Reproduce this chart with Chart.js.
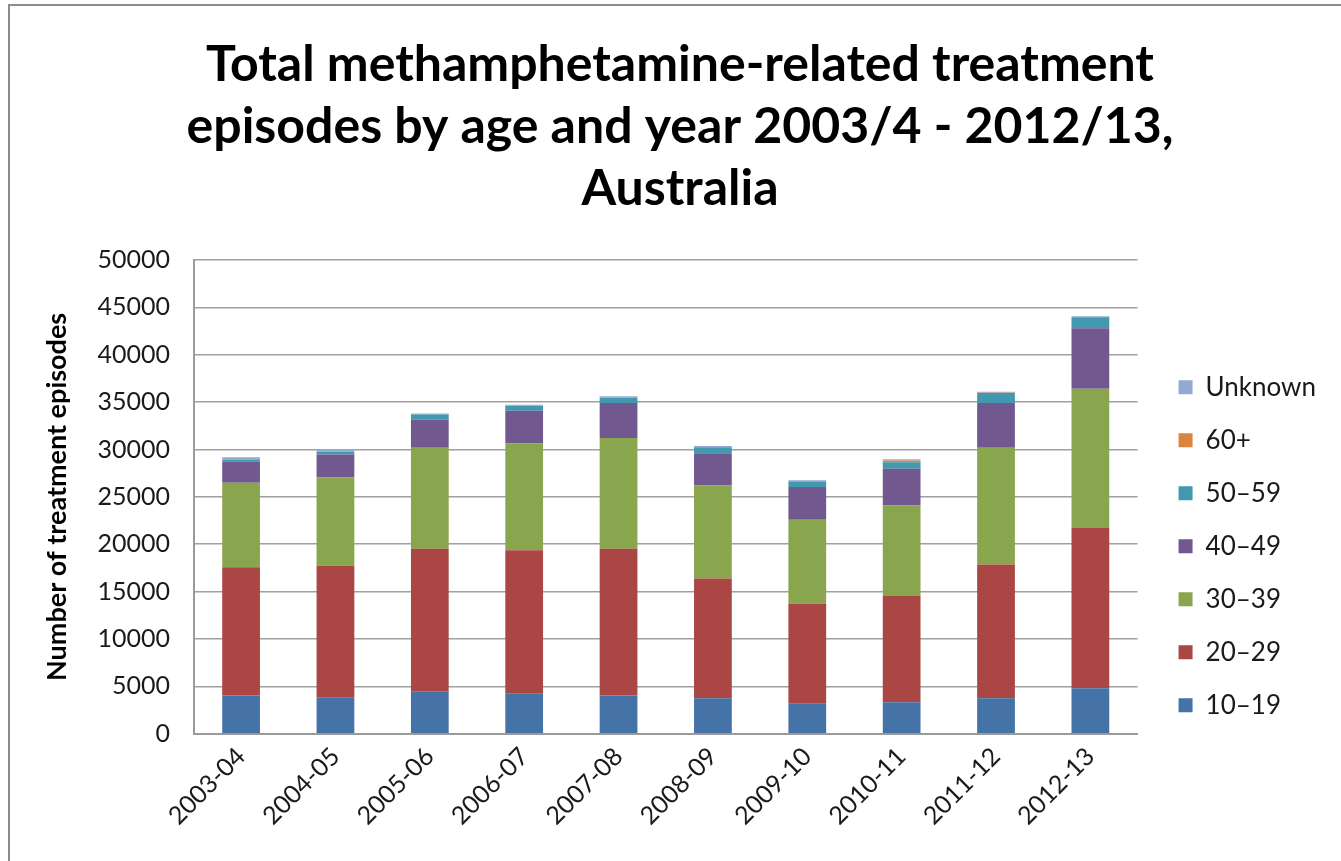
<!DOCTYPE html>
<html>
<head>
<meta charset="utf-8">
<title>Methamphetamine treatment episodes</title>
<script src="https://cdn.jsdelivr.net/npm/chart.js@4"></script>
<style>
  html, body { margin: 0; padding: 0; background: #fff; overflow: hidden; }
  #mainChart { position: absolute; left: 0; top: 0; z-index: 1; }
  #frame {
    position: absolute; left: 8px; top: 4px; width: 1400px; height: 900px;
    border-left: 2px solid #8c8c8c; border-top: 2px solid #8c8c8c;
    z-index: 2; pointer-events: none;
  }
</style>
</head>
<body>
<canvas id="mainChart" width="1360" height="861"></canvas>
<div id="frame"></div>
<script>
// Financial years
const years = ["2003-04", "2004-05", "2005-06", "2006-07", "2007-08",
               "2008-09", "2009-10", "2010-11", "2011-12", "2012-13"];

// Episodes per age group
const age10to19 = [4030, 3790, 4490, 4210, 4030, 3750, 3160, 3330, 3750, 4800];
const age20to29 = [13550, 13930, 15020, 15160, 15480, 12630, 10560, 11260, 14100, 16920];
const age30to39 = [8900, 9360, 10660, 11260, 11710, 9830, 8870, 9510, 12320, 14700];
const age40to49 = [2220, 2390, 2990, 3470, 3690, 3400, 3440, 3860, 4740, 6380];
const age50to59 = [250, 280, 520, 490, 560, 630, 600, 700, 1050, 1160];
const age60plus = [20, 20, 20, 30, 30, 30, 30, 180, 30, 30];
const ageUnknown = [200, 250, 110, 110, 110, 100, 100, 140, 100, 70];

const yTicks = [0, 5000, 10000, 15000, 20000, 25000, 30000, 35000, 40000, 45000, 50000];

const colors = {
    a10: "#4572A7",
    a20: "#AA4643",
    a30: "#89A54E",
    a40: "#71588F",
    a50: "#4198AF",
    a60: "#DB843D",
    unk: "#93A9CF",
};

const fontFamily = "Lato, 'Noto Sans', sans-serif";

function series(label, data, color) {
    return {
        label: label,
        data: data,
        backgroundColor: color,
        borderWidth: 0,
        barPercentage: 0.5,
        categoryPercentage: 0.8,
    };
}

const ctx = document.getElementById("mainChart").getContext("2d");

new Chart(ctx, {
    type: "bar",
    data: {
        labels: years,
        datasets: [
            series("10–19", age10to19, colors.a10),
            series("20–29", age20to29, colors.a20),
            series("30–39", age30to39, colors.a30),
            series("40–49", age40to49, colors.a40),
            series("50–59", age50to59, colors.a50),
            series("60+", age60plus, colors.a60),
            series("Unknown", ageUnknown, colors.unk),
        ],
    },
    options: {
        responsive: false,
        animation: false,
        layout: { padding: { left: 34, right: 34, top: 0, bottom: 22 } },
        plugins: {
            title: {
                display: true,
                text: [
                    "Total methamphetamine-related treatment",
                    "episodes by age and year 2003/4 - 2012/13,",
                    "Australia",
                ],
                color: "#000",
                font: { family: fontFamily, size: 50, weight: "bold", lineHeight: 1.24 },
                padding: { top: 34, bottom: 40 },
            },
            legend: {
                position: "right",
                reverse: true,
                // blank title just pushes the items down beside the plot
                title: {
                    display: true,
                    text: " ",
                    font: { size: 12 },
                    padding: { top: 239, bottom: 0 },
                },
                labels: {
                    color: "#1a1a1a",
                    font: { family: fontFamily, size: 26 },
                    boxWidth: 14,
                    boxHeight: 14,
                    padding: 27,
                },
            },
            tooltip: { enabled: false },
        },
        scales: {
            x: {
                stacked: true,
                grid: { display: false, drawTicks: false },
                border: { display: true, color: "#9a9a9a", width: 2 },
                ticks: {
                    color: "#1a1a1a",
                    font: { family: fontFamily, size: 25 },
                    minRotation: 45,
                    maxRotation: 45,
                    padding: 8,
                },
            },
            y: {
                stacked: true,
                min: 0,
                max: 50000,
                afterBuildTicks: (axis) => {
                    axis.ticks = yTicks.map((v) => ({ value: v }));
                },
                grid: { color: "#a0a0a0", lineWidth: 1.5, drawTicks: false },
                border: { display: true, color: "#9a9a9a", width: 2 },
                ticks: {
                    color: "#1a1a1a",
                    font: { family: fontFamily, size: 25 },
                    padding: 24,
                    callback: (v) => String(v),
                },
                title: {
                    display: true,
                    text: "Number of treatment episodes",
                    color: "#000",
                    font: { family: fontFamily, size: 27, weight: "bold" },
                    padding: { top: 7, bottom: 0 },
                },
            },
            // blank strip between plot and legend
            gap: {
                type: "linear",
                position: "right",
                display: true,
                grid: { display: false, drawTicks: false },
                border: { display: false },
                ticks: { display: false },
                afterFit: (scale) => {
                    scale.width = 14;
                },
            },
        },
    },
    plugins: [
        {
            id: "whiteBackground",
            beforeDraw: (chart) => {
                const c = chart.ctx;
                c.save();
                c.fillStyle = "#fff";
                c.fillRect(0, 0, chart.width, chart.height);
                c.restore();
            },
        },
    ],
});
</script>
</body>
</html>
